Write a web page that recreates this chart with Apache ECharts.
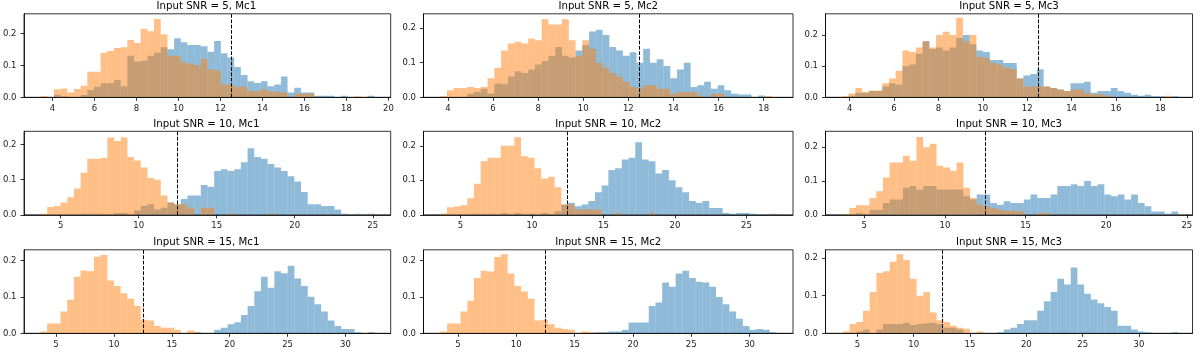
<!DOCTYPE html>
<html lang="en">
<head>
<meta charset="UTF-8">
<title>Input SNR histograms</title>
<script src="https://cdn.jsdelivr.net/npm/echarts/dist/echarts.min.js"></script>
<style>
  html, body { margin: 0; padding: 0; background: #fff; }
  #chart { width: 1200px; height: 349px; }
</style>
</head>
<body>
<div id="chart"></div>
<script>
// panel titles, row by row
var titles = [
  'Input SNR = 5, Mc1', 'Input SNR = 5, Mc2', 'Input SNR = 5, Mc3',
  'Input SNR = 10, Mc1', 'Input SNR = 10, Mc2', 'Input SNR = 10, Mc3',
  'Input SNR = 15, Mc1', 'Input SNR = 15, Mc2', 'Input SNR = 15, Mc3'
];

// histogram bins (left edge of first bin, bin width), 50 bins each
var binStart = [3.43, 3.66, 3.65, 3.71, 3.6, 3.66, 3.66, 3.5, 3.71];
var binWidth = [0.318, 0.3, 0.303, 0.428, 0.47, 0.416, 0.577, 0.576, 0.595];

// normalised counts per bin (blue / orange)
var snr5Mc1Blue = [0,0,0.008,0.003,0,0,0.007,0.023,0.033,0.044, 0.044,0.054,0.035,0.13,0.112,0.115,0.13,0.14,0.157,0.151,
  0.185,0.173,0.164,0.164,0.16,0.143,0.177,0.138,0.125,0.095, 0.07,0.05,0.045,0.05,0.035,0.04,0.065,0.015,0.03,0.015,
  0.015,0.005,0.005,0.005,0,0.005,0,0,0,0.005];
var snr5Mc1Orange = [0.004,0,0.025,0.028,0.015,0.026,0.036,0.08,0.08,0.14, 0.145,0.155,0.157,0.18,0.17,0.215,0.207,0.246,0.198,0.13,
  0.13,0.11,0.105,0.1,0.12,0.087,0.085,0.04,0.04,0.033, 0.033,0.02,0.02,0.025,0.018,0.018,0.015,0,0.01,0.012,
  0.012,0,0,0,0,0,0,0.003,0,0];

var snr5Mc2Blue = [0,0,0,0,0.01,0.015,0.025,0.01,0.04,0.038, 0.06,0.075,0.07,0.08,0.095,0.105,0.12,0.145,0.12,0.115,
  0.135,0.15,0.19,0.195,0.18,0.145,0.135,0.12,0.13,0.1, 0.14,0.1,0.11,0.09,0.055,0.08,0.1,0.03,0.035,0.045,
  0.025,0.035,0.02,0.01,0.008,0.008,0,0.005,0,0];
var snr5Mc2Orange = [0.003,0.02,0.027,0.027,0.03,0.027,0.03,0.055,0.085,0.135, 0.155,0.16,0.155,0.17,0.165,0.225,0.21,0.21,0.225,0.165,
  0.12,0.165,0.14,0.1,0.085,0.07,0.06,0.045,0.03,0.025, 0.035,0.035,0.025,0.025,0.01,0.015,0.015,0.015,0.005,0,
  0.01,0.01,0,0,0,0,0,0,0.004,0];

var snr5Mc3Blue = [0,0.005,0.015,0.015,0.02,0.02,0.035,0.045,0.04,0.1, 0.105,0.14,0.18,0.155,0.16,0.15,0.16,0.19,0.2,0.17,
  0.15,0.145,0.12,0.12,0.11,0.11,0.06,0.07,0.075,0.09, 0.035,0.03,0.025,0.02,0.045,0.045,0.05,0.015,0.02,0.02,
  0.03,0.02,0.015,0.008,0.005,0.008,0.003,0.003,0,0.003];
var snr5Mc3Orange = [0.003,0.012,0.03,0.017,0.022,0.022,0.045,0.06,0.085,0.15, 0.145,0.16,0.18,0.16,0.2,0.21,0.2,0.255,0.18,0.2,
  0.13,0.125,0.11,0.105,0.095,0.09,0.06,0.035,0.035,0.035, 0.035,0.03,0.025,0.02,0.025,0.025,0.015,0.01,0.01,0.005,
  0,0,0,0,0,0,0,0,0.005,0];

var snr10Mc1Blue = [0,0,0,0,0,0,0.003,0.003,0.003,0, 0,0.005,0.005,0,0.012,0.025,0.03,0.015,0.02,0.035,
  0.03,0.045,0.055,0.055,0.085,0.08,0.125,0.13,0.125,0.13, 0.15,0.19,0.165,0.16,0.145,0.135,0.125,0.11,0.095,0.065,
  0.03,0.03,0.025,0.025,0.015,0.003,0,0.003,0,0.003];
var snr10Mc1Orange = [0.003,0.022,0.025,0.035,0.05,0.075,0.12,0.16,0.16,0.162, 0.22,0.21,0.22,0.165,0.155,0.135,0.105,0.1,0.055,0.035,
  0.03,0.03,0.02,0,0.02,0.02,0,0,0.003,0, 0,0,0,0,0.003,0,0,0,0,0,
  0,0,0,0,0,0,0,0,0,0];

var snr10Mc2Blue = [0,0,0,0,0,0.003,0,0.003,0,0.005, 0,0.005,0,0.003,0,0.005,0,0.01,0.03,0.035,
  0.025,0.03,0.04,0.065,0.085,0.13,0.135,0.16,0.165,0.21, 0.16,0.155,0.12,0.13,0.1,0.08,0.065,0.04,0.035,0.04,
  0.02,0.02,0.005,0.003,0.005,0.005,0.003,0,0,0.003];
var snr10Mc2Orange = [0.004,0.022,0.024,0.028,0.048,0.09,0.155,0.165,0.165,0.2, 0.2,0.225,0.17,0.165,0.135,0.105,0.11,0.08,0.03,0.03,
  0.015,0.015,0.015,0.015,0,0,0.005,0,0,0, 0,0.005,0,0,0,0,0,0,0,0,
  0,0,0,0,0,0,0,0,0,0];

var snr10Mc3Blue = [0,0,0.005,0,0.015,0.015,0.035,0.045,0.045,0.08, 0.085,0.075,0.085,0.085,0.075,0.075,0.075,0.075,0.055,0.045,
  0.06,0.06,0.035,0.03,0.04,0.035,0.035,0.045,0.06,0.05, 0.05,0.06,0.085,0.085,0.09,0.085,0.1,0.085,0.09,0.06,
  0.055,0.06,0.045,0.06,0.035,0.025,0.01,0.01,0.003,0.01];
var snr10Mc3Orange = [0.003,0.02,0.028,0.028,0.05,0.07,0.11,0.155,0.155,0.175, 0.16,0.23,0.2,0.21,0.145,0.14,0.13,0.155,0.08,0.05,
  0.03,0.025,0.02,0.015,0.012,0.012,0.01,0,0,0.005, 0.005,0,0,0,0,0,0,0,0,0,
  0,0,0,0,0,0,0,0,0,0];

var snr15Mc1Blue = [0,0,0,0,0,0,0,0,0,0, 0,0,0,0,0,0,0,0,0,0,
  0,0,0,0.003,0,0,0.01,0.015,0.025,0.03, 0.05,0.075,0.115,0.155,0.125,0.17,0.165,0.185,0.15,0.13,
  0.1,0.08,0.06,0.035,0.02,0.012,0.012,0.003,0,0.003];
var snr15Mc1Orange = [0.005,0.027,0.027,0.06,0.092,0.155,0.172,0.17,0.21,0.215, 0.145,0.13,0.11,0.095,0.075,0.037,0.035,0.02,0.015,0.015,
  0.01,0,0.008,0.003,0,0,0,0,0,0, 0,0,0,0,0,0,0,0,0,0,
  0,0,0,0,0,0,0,0,0,0];

var snr15Mc2Blue = [0,0,0,0,0,0,0,0,0,0, 0,0,0,0,0,0,0,0,0,0,
  0,0,0,0.003,0.003,0.005,0.005,0.01,0.03,0.03, 0.03,0.075,0.085,0.14,0.128,0.165,0.172,0.152,0.142,0.14,
  0.128,0.1,0.08,0.06,0.04,0.02,0.01,0.012,0.01,0.003];
var snr15Mc2Orange = [0.005,0.027,0.027,0.06,0.09,0.152,0.172,0.17,0.21,0.218, 0.165,0.13,0.115,0.095,0.035,0.037,0.025,0.015,0.012,0.01,
  0,0.005,0.003,0,0,0,0,0,0,0, 0,0,0,0,0,0,0,0,0,0,
  0,0,0,0,0,0,0,0,0,0];

var snr15Mc3Blue = [0,0,0.005,0.01,0,0.01,0.025,0.025,0.025,0.028, 0.022,0.025,0.027,0.028,0.025,0.015,0.015,0.01,0,0,
  0,0,0,0.003,0.01,0.015,0.025,0.035,0.035,0.06, 0.085,0.11,0.145,0.13,0.175,0.13,0.105,0.09,0.08,0.07,
  0.06,0.02,0.02,0.01,0.005,0.003,0,0,0,0.003];
var snr15Mc3Orange = [0.005,0.025,0.03,0.06,0.11,0.16,0.165,0.19,0.21,0.195, 0.145,0.1,0.11,0.055,0.035,0.03,0.02,0.015,0.012,0,
  0.005,0,0,0,0,0,0,0,0,0, 0,0,0,0,0,0,0,0,0,0,
  0,0,0,0,0,0,0,0,0,0];

var blueCounts = [snr5Mc1Blue, snr5Mc2Blue, snr5Mc3Blue, snr10Mc1Blue, snr10Mc2Blue, snr10Mc3Blue, snr15Mc1Blue, snr15Mc2Blue, snr15Mc3Blue];
var orangeCounts = [snr5Mc1Orange, snr5Mc2Orange, snr5Mc3Orange, snr10Mc1Orange, snr10Mc2Orange, snr10Mc3Orange, snr15Mc1Orange, snr15Mc2Orange, snr15Mc3Orange];

// axis ranges and tick labels
var xMin = [2.64, 2.92, 2.91, 2.65, 2.42, 2.6, 2.24, 2.05, 2.17];
var xMax = [20.11, 19.3, 19.45, 26.15, 28.26, 25.35, 33.9, 33.72, 34.75];
var yMax = [0.262, 0.241, 0.268, 0.238, 0.242, 0.247, 0.229, 0.23, 0.222];
var xTicksSnr5 = [4, 6, 8, 10, 12, 14, 16, 18];
var xTicksSnr5Mc1 = [4, 6, 8, 10, 12, 14, 16, 18, 20];
var xTicksSnr10 = [5, 10, 15, 20, 25];
var xTicksSnr15 = [5, 10, 15, 20, 25, 30];
var xTicks = [xTicksSnr5Mc1, xTicksSnr5, xTicksSnr5, xTicksSnr10, xTicksSnr10, xTicksSnr10, xTicksSnr15, xTicksSnr15, xTicksSnr15];
var yTicks = [0, 0.1, 0.2];
var threshold = 12.5;

// layout of the 3x3 grid (px)
var colLeft = [22, 423.5, 825.5];
var colWidth = [368.7, 369.5, 367];
var rowTop = [13.8, 131.3, 249.8];
var rowHeight = 83.5;

var FONT = 'DejaVu Sans';
var BLUE = '#1f77b4';
var ORANGE = '#ff7f0e';

function histData(k, counts) {
  var out = [];
  for (var i = 0; i < counts.length; i++) {
    if (counts[i] > 0) {
      out.push([binStart[k] + i * binWidth[k], binStart[k] + (i + 1) * binWidth[k], counts[i]]);
    }
  }
  return out;
}

function histSeries(k, counts, color, withLine) {
  var s = {
    type: 'custom',
    xAxisIndex: k,
    yAxisIndex: k,
    data: histData(k, counts),
    encode: { x: [0, 1], y: 2 },
    clip: true,
    silent: true,
    renderItem: function (params, api) {
      var p0 = api.coord([api.value(0), api.value(2)]);
      var p1 = api.coord([api.value(1), 0]);
      return {
        type: 'rect',
        shape: { x: p0[0], y: p0[1], width: p1[0] - p0[0], height: p1[1] - p0[1] },
        style: { fill: color, opacity: 0.5 }
      };
    }
  };
  if (withLine) {
    s.markLine = {
      silent: true,
      symbol: ['none', 'none'],
      label: { show: false },
      lineStyle: { color: '#000', width: 1, type: [3.7, 1.6], opacity: 1 },
      data: [{ xAxis: threshold }]
    };
  }
  return s;
}

var grids = [], xAxes = [], yAxes = [], series = [], titleList = [];
for (var k = 0; k < 9; k++) {
  var r = Math.floor(k / 3), c = k % 3;
  grids.push({
    left: colLeft[c], top: rowTop[r], width: colWidth[c], height: rowHeight,
    show: true, borderColor: '#000', borderWidth: 0.8, backgroundColor: 'transparent'
  });
  titleList.push({
    text: titles[k],
    left: colLeft[c] + colWidth[c] / 2,
    top: rowTop[r] - 13,
    textAlign: 'center',
    padding: 0,
    textStyle: { fontFamily: FONT, fontSize: 10.2, fontWeight: 'normal', color: '#000', lineHeight: 12 }
  });
  xAxes.push({
    type: 'value', gridIndex: k, min: xMin[k], max: xMax[k], z: 5,
    splitLine: { show: false },
    axisLine: { show: true, lineStyle: { color: '#000', width: 0.8 } },
    axisTick: { show: true, length: 3.5, lineStyle: { color: '#000', width: 0.8 }, customValues: xTicks[k] },
    axisLabel: { fontFamily: FONT, fontSize: 8.5, color: '#222', margin: 6.5, customValues: xTicks[k],
      formatter: function (v) { return String(v); } }
  });
  yAxes.push({
    type: 'value', gridIndex: k, min: 0, max: yMax[k], z: 5,
    splitLine: { show: false },
    axisLine: { show: true, lineStyle: { color: '#000', width: 0.8 } },
    axisTick: { show: true, length: 3.5, lineStyle: { color: '#000', width: 0.8 }, customValues: yTicks },
    axisLabel: { fontFamily: FONT, fontSize: 8.5, color: '#222', margin: 7.5, customValues: yTicks,
      formatter: function (v) { return v.toFixed(1); } }
  });
  series.push(histSeries(k, blueCounts[k], BLUE, false));
  series.push(histSeries(k, orangeCounts[k], ORANGE, true));
}

var chart = echarts.init(document.getElementById('chart'));
chart.setOption({
  animation: false,
  backgroundColor: '#fff',
  title: titleList,
  grid: grids,
  xAxis: xAxes,
  yAxis: yAxes,
  series: series
});
</script>
</body>
</html>
